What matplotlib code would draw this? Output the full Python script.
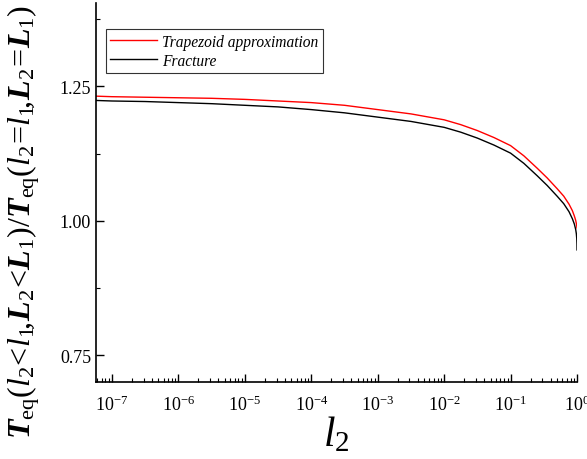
import matplotlib
matplotlib.use('Agg')
import matplotlib.pyplot as plt
from matplotlib.ticker import MultipleLocator, FormatStrFormatter, LogLocator

plt.rcParams['font.family'] = 'Liberation Serif'
plt.rcParams['mathtext.fontset'] = 'custom'
plt.rcParams['mathtext.rm'] = 'Liberation Serif'
plt.rcParams['mathtext.it'] = 'Liberation Serif:italic'
plt.rcParams['mathtext.bf'] = 'Liberation Serif:italic:bold'

# values (x in log10 of l2)
log_l2 = [-7.24, -7, -6.5, -6, -5.5, -5, -4.5, -4, -3.5, -3, -2.5, -2, -1.75, -1.5,
          -1.25, -1, -0.8, -0.6, -0.45, -0.3, -0.2, -0.12, -0.07, -0.04, -0.02,
          -0.01, -0.004, -0.001, 0]
trapezoid = [1.232, 1.231, 1.230, 1.229, 1.228, 1.226, 1.223, 1.220, 1.215, 1.207,
             1.199, 1.188, 1.179, 1.168, 1.155, 1.140, 1.121, 1.098, 1.080, 1.060,
             1.046, 1.031, 1.019, 1.009, 1.001, 0.995, 0.991, 0.988, 0.987]
fracture = [1.224, 1.223, 1.222, 1.220, 1.218, 1.215, 1.212, 1.207, 1.201, 1.193,
            1.185, 1.174, 1.165, 1.154, 1.141, 1.126, 1.107, 1.084, 1.066, 1.046,
            1.032, 1.017, 1.004, 0.994, 0.984, 0.976, 0.967, 0.957, 0.946]

l2 = [10 ** v for v in log_l2]

fig = plt.figure(figsize=(5.87, 4.6), dpi=100)
ax = fig.add_axes([0.1635, 0.167, 0.8195, 0.824])

ax.plot(l2, trapezoid, color='red', lw=1.0, label='Trapezoid approximation')
ax.plot(l2, fracture, color='black', lw=1.0, label='Fracture')

ax.set_xscale('log')
ax.set_xlim(10 ** -7.24, 1.0)
ax.set_ylim(0.70, 1.405)

ax.yaxis.set_major_locator(MultipleLocator(0.25))
ax.yaxis.set_minor_locator(MultipleLocator(0.125))
ax.yaxis.set_major_formatter(FormatStrFormatter('%.2f'))
ax.xaxis.set_major_locator(LogLocator(base=10, numticks=20))
ax.xaxis.set_minor_locator(LogLocator(base=10, subs=range(2, 10), numticks=20))

for s in ['top', 'right']:
    ax.spines[s].set_visible(False)
for s in ['left', 'bottom']:
    ax.spines[s].set_linewidth(1.2)

ax.tick_params(which='both', direction='in', labelsize=13)
ax.tick_params(which='major', length=6, width=1)
ax.tick_params(which='minor', length=3, width=0.8)
ax.tick_params(axis='x', pad=9)

ax.set_xlabel(r'$l_2$', fontsize=30)
ax.xaxis.set_label_coords(0.5, -0.085)
ax.set_ylabel(r'$\mathbf{T}_{\rm eq}(l_2\!<\!l_1\!,\!\mathbf{L}_2\!<\!\mathbf{L}_1)/'
              r'\mathbf{T}_{\rm eq}(l_2\!=\!l_1\!,\!\mathbf{L}_2\!=\!\mathbf{L}_1)$',
              fontsize=23)
ax.yaxis.set_label_coords(-0.112, 0.425)

leg = ax.legend(loc='upper left', bbox_to_anchor=(0.02, 0.932), frameon=True,
                fancybox=False, edgecolor='black', handlelength=3.0,
                borderpad=0.3, labelspacing=0.2, handletextpad=0.3,
                borderaxespad=0.0,
                prop={'family': 'Liberation Serif', 'style': 'italic', 'size': 11.2})
leg.get_frame().set_linewidth(0.8)

fig.savefig('out.png', dpi=100)
